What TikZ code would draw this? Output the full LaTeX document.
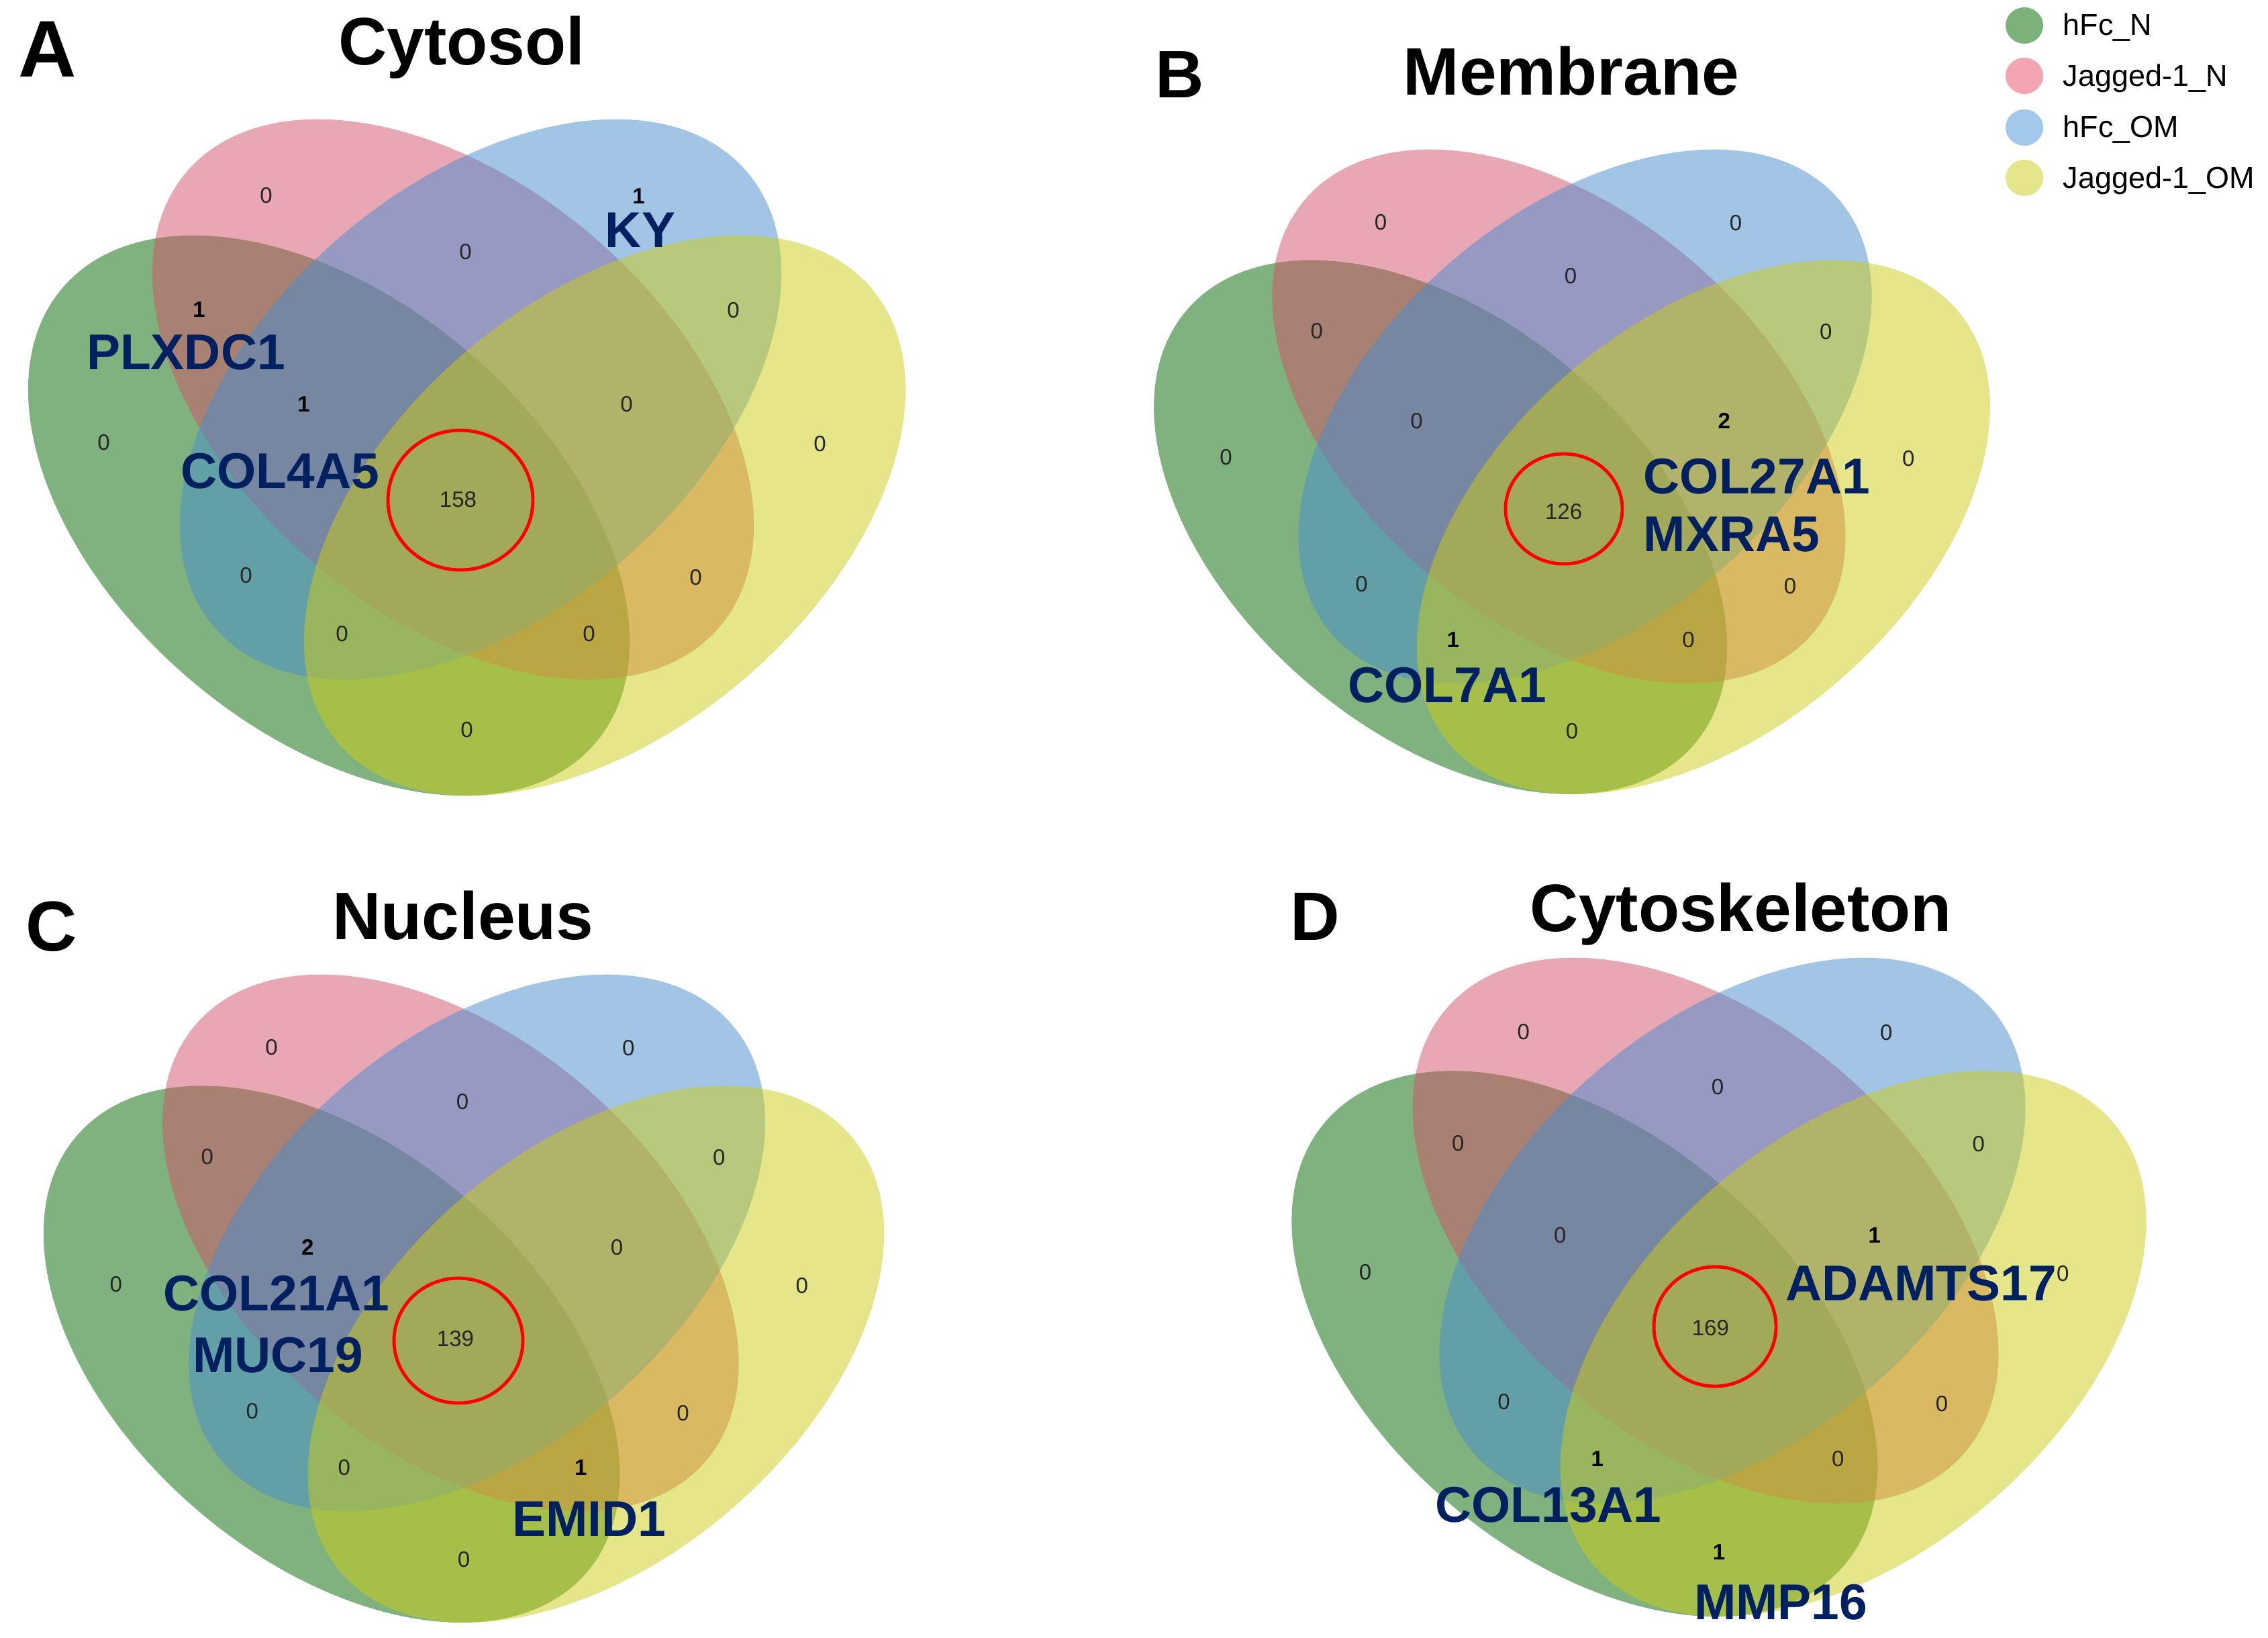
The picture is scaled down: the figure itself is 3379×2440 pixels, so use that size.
\documentclass[tikz,border=0pt]{standalone}
\usepackage{fontspec}
\setmainfont{Liberation Sans}
\definecolor{vgreen}{RGB}{0,102,0}
\definecolor{vpink}{RGB}{209,81,105}
\definecolor{vblue}{RGB}{71,141,207}
\definecolor{vyellow}{RGB}{205,205,21}
\definecolor{lgreen}{RGB}{122,178,122}
\definecolor{lpink}{RGB}{244,166,176}
\definecolor{lblue}{RGB}{162,200,236}
\definecolor{lyellow}{RGB}{229,230,139}
\definecolor{genenavy}{RGB}{0,32,96}
\definecolor{ringred}{RGB}{255,0,0}
\newcommand{\vennsets}{%
  \fill[vgreen, fill opacity=0.5, rotate around={-40.5:(-205.5,-590)}] (-205.5,-590) ellipse [x radius=522, y radius=320];
  \fill[vpink, fill opacity=0.5, rotate around={-40.5:(-20.5,-417)}] (-20.5,-417) ellipse [x radius=522, y radius=320];
  \fill[vblue, fill opacity=0.5, rotate around={40.5:(20.5,-417)}] (20.5,-417) ellipse [x radius=522, y radius=320];
  \fill[vyellow, fill opacity=0.5, rotate around={40.5:(205.5,-590)}] (205.5,-590) ellipse [x radius=522, y radius=320];
}
\begin{document}
\begin{tikzpicture}[x=0.01cm,y=0.01cm,
  zl/.style={inner sep=0, font=\fontsize{9.4}{11}\selectfont, text=black!85},
  nl/.style={inner sep=0, font=\fontsize{9.4}{11}\selectfont\bfseries, text=black},
  gn/.style={inner sep=0, font=\fontsize{21.3}{24}\selectfont\bfseries, text=genenavy},
  ttl/.style={inner sep=0, anchor=base, font=\fontsize{28.45}{32}\selectfont\bfseries},
  plet/.style={inner sep=0, anchor=base west},
  lt/.style={inner sep=0, anchor=base west, font=\fontsize{12.8}{15}\selectfont},
  ring/.style={draw=ringred, line width=1.4pt}]
\useasboundingbox (0,0) rectangle (3379,-2440);
\fill[white] (0,0) rectangle (3379,-2440);

% ---------------- Panel A ----------------
\begin{scope}[shift={(695.5,-178)}]
  \vennsets
  \node[zl] (A-p) at (-299,-113) {0};
  \node[nl] (A-b) at (256,-114) {1};
  \node[zl] (A-pb) at (-2,-197) {0};
  \node[nl] (A-gp) at (-399,-283) {1};
  \node[zl] (A-by) at (397,-284) {0};
  \node[nl] (A-gpb) at (-243,-424) {1};
  \node[zl] (A-pby) at (238,-424) {0};
  \node[zl] (A-g) at (-541,-481) {0};
  \node[zl] (A-y) at (526,-483) {0};
  \node[zl] (A-all) at (-13,-566) {158};
  \node[zl] (A-gb) at (-329,-679) {0};
  \node[zl] (A-py) at (341,-682) {0};
  \node[zl] (A-gby) at (-186,-766) {0};
  \node[zl] (A-gpy) at (182,-766) {0};
  \node[zl] (A-gy) at (0,-909) {0};
\end{scope}
\draw[ring] (686,-745) ellipse [x radius=108, y radius=104];
\node[plet, font=\fontsize{34}{38}\selectfont\bfseries] (labA) at (27,-115) {A};
\node[ttl] (titA) at (688,-97) {Cytosol};
\node[gn] (KY) at (954,-343) {KY};
\node[gn] (PLXDC1) at (277,-525) {PLXDC1};
\node[gn] (COL4A5) at (417,-702) {COL4A5};

% ---------------- Panel B ----------------
\begin{scope}[shift={(2342,-223)}, scale=0.953]
  \vennsets
  \node[zl] (B-p) at (-299,-113) {0};
  \node[zl] (B-b) at (256,-114) {0};
  \node[zl] (B-pb) at (-2,-197) {0};
  \node[zl] (B-gp) at (-399,-283) {0};
  \node[zl] (B-by) at (397,-284) {0};
  \node[zl] (B-gpb) at (-243,-424) {0};
  \node[nl] (B-pby) at (238,-424) {2};
  \node[zl] (B-g) at (-541,-481) {0};
  \node[zl] (B-y) at (526,-483) {0};
  \node[zl] (B-all) at (-13,-566) {126};
  \node[zl] (B-gb) at (-329,-679) {0};
  \node[zl] (B-py) at (341,-682) {0};
  \node[nl] (B-gby) at (-186,-766) {1};
  \node[zl] (B-gpy) at (182,-766) {0};
  \node[zl] (B-gy) at (0,-909) {0};
\end{scope}
\draw[ring] (2330,-758) ellipse [x radius=87, y radius=82];
\node[plet, font=\fontsize{28.5}{32}\selectfont\bfseries] (labB) at (1721,-146) {B};
\node[ttl] (titB) at (2341,-142) {Membrane};
\node[gn, anchor=west] (COL27A1) at (2448,-710) {COL27A1};
\node[gn, anchor=west] (MXRA5) at (2448,-796) {MXRA5};
\node[gn] (COL7A1) at (2156,-1021) {COL7A1};

% ---------------- Panel C ----------------
\begin{scope}[shift={(691,-1452)}, scale=0.958]
  \vennsets
  \node[zl] (C-p) at (-299,-113) {0};
  \node[zl] (C-b) at (256,-114) {0};
  \node[zl] (C-pb) at (-2,-197) {0};
  \node[zl] (C-gp) at (-399,-283) {0};
  \node[zl] (C-by) at (397,-284) {0};
  \node[nl] (C-gpb) at (-243,-424) {2};
  \node[zl] (C-pby) at (238,-424) {0};
  \node[zl] (C-g) at (-541,-481) {0};
  \node[zl] (C-y) at (526,-483) {0};
  \node[zl] (C-all) at (-13,-566) {139};
  \node[zl] (C-gb) at (-329,-679) {0};
  \node[zl] (C-py) at (341,-682) {0};
  \node[zl] (C-gby) at (-186,-766) {0};
  \node[nl] (C-gpy) at (182,-766) {1};
  \node[zl] (C-gy) at (0,-909) {0};
\end{scope}
\draw[ring] (683,-1997) ellipse [x radius=96, y radius=93];
\node[plet, font=\fontsize{30}{34}\selectfont\bfseries] (labC) at (38,-1416) {C};
\node[ttl] (titC) at (690,-1399) {Nucleus};
\node[gn] (COL21A1) at (412,-1927) {COL21A1};
\node[gn] (MUC19) at (414,-2019) {MUC19};
\node[gn] (EMID1) at (878,-2263) {EMID1};

% ---------------- Panel D ----------------
\begin{scope}[shift={(2561,-1427)}, scale=0.974]
  \vennsets
  \node[zl] (D-p) at (-299,-113) {0};
  \node[zl] (D-b) at (256,-114) {0};
  \node[zl] (D-pb) at (-2,-197) {0};
  \node[zl] (D-gp) at (-399,-283) {0};
  \node[zl] (D-by) at (397,-284) {0};
  \node[zl] (D-gpb) at (-243,-424) {0};
  \node[nl] (D-pby) at (238,-424) {1};
  \node[zl] (D-g) at (-541,-481) {0};
  \node[zl] (D-y) at (526,-483) {0};
  \node[zl] (D-all) at (-13,-566) {169};
  \node[zl] (D-gb) at (-329,-679) {0};
  \node[zl] (D-py) at (341,-682) {0};
  \node[nl] (D-gby) at (-186,-766) {1};
  \node[zl] (D-gpy) at (182,-766) {0};
  \node[nl] (D-gy) at (0,-909) {1};
\end{scope}
\draw[ring] (2555,-1976) ellipse [x radius=91, y radius=89];
\node[plet, font=\fontsize{29}{33}\selectfont\bfseries] (labD) at (1922,-1400) {D};
\node[ttl] (titD) at (2594,-1387) {Cytoskeleton};
\node[gn] (ADAMTS17) at (2862,-1912) {ADAMTS17};
\node[gn] (COL13A1) at (2307,-2242) {COL13A1};
\node[gn] (MMP16) at (2653,-2387) {MMP16};

% ---------------- Legend ----------------
\fill[lgreen] (3016,-38) ellipse [x radius=28, y radius=27];
\fill[lpink] (3016,-113) ellipse [x radius=28, y radius=27];
\fill[lblue] (3016,-190) ellipse [x radius=28, y radius=27];
\fill[lyellow] (3016,-265) ellipse [x radius=28, y radius=27];
\node[lt] (legG) at (3073,-53) {hFc\_N};
\node[lt] (legP) at (3073,-129) {Jagged-1\_N};
\node[lt] (legB) at (3073,-205) {hFc\_OM};
\node[lt] (legY) at (3073,-281) {Jagged-1\_OM};
\end{tikzpicture}
\end{document}
